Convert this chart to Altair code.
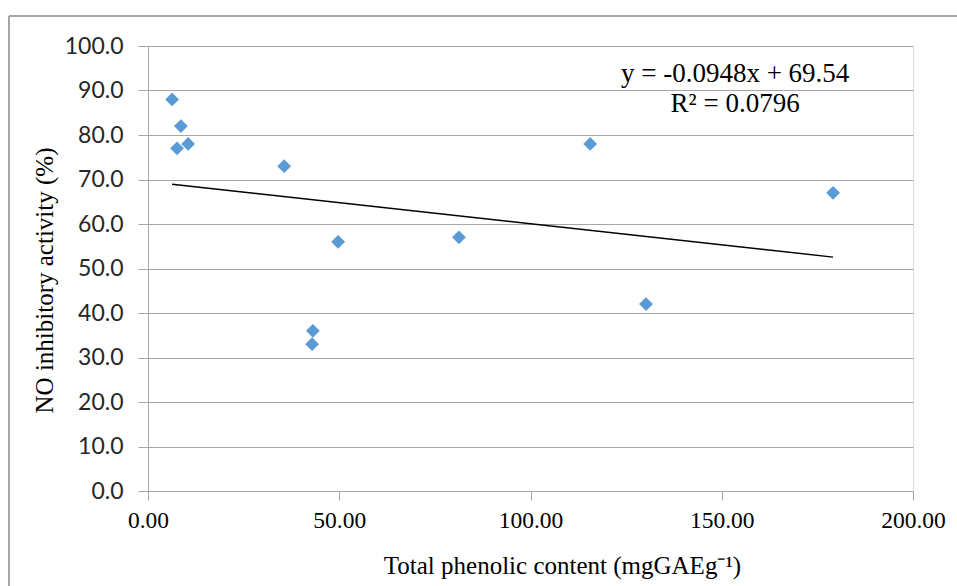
import altair as alt
import pandas as pd

# Data
phenolic = [6.3, 8.6, 7.6, 10.5, 35.6, 49.7, 43.1, 42.9, 81.3, 115.6, 130.2, 179.1]
no_inhib = [88.0, 82.0, 77.0, 78.0, 73.0, 56.0, 36.0, 33.0, 57.0, 78.0, 42.0, 67.0]

eq_lines = ["y = -0.0948x + 69.54", "R² = 0.0796"]
eq_x = [153.5, 153.5]
eq_y = [93.6, 87.0]

df = pd.DataFrame({"x": phenolic, "y": no_inhib})
eq_df = pd.DataFrame({"t": eq_lines, "x": eq_x, "y": eq_y})

W, H = 765, 445
serif = "Liberation Serif"
sans = "Lato"

xscale = alt.Scale(domain=[0, 200], nice=False, zero=True)
yscale = alt.Scale(domain=[0, 100], nice=False)

xenc = alt.X(
    "x:Q",
    scale=xscale,
    axis=alt.Axis(
        values=[0, 50, 100, 150, 200],
        format=".2f",
        title="Total phenolic content (mgGAEg⁻¹)",
        grid=False,
        domainColor="#a6a6a6",
        tickColor="#a6a6a6",
        tickSize=9,
        labelFlush=False,
        labelFont=serif,
        labelFontSize=23.5,
        labelColor="#000000",
        labelPadding=8,
        titleFont=serif,
        titleFontSize=25,
        titleFontWeight="normal",
        titleColor="#000000",
        titleX=414,
        titleY=82,
        titleAlign="center",
        titleBaseline="alphabetic",
    ),
)
yenc = alt.Y(
    "y:Q",
    scale=yscale,
    axis=alt.Axis(
        values=list(range(0, 101, 10)),
        format=".1f",
        title="NO inhibitory activity (%)",
        grid=True,
        gridColor="#a6a6a6",
        gridWidth=1.2,
        domainColor="#a6a6a6",
        tickColor="#a6a6a6",
        tickSize=10,
        labelFont=sans,
        labelFontSize=23,
        labelColor="#262626",
        labelPadding=15,
        titleFont=serif,
        titleFontSize=25,
        titleFontWeight="normal",
        titleColor="#000000",
        titleX=-96,
        titleY=234,
        titleAlign="center",
        titleBaseline="alphabetic",
    ),
)

points = alt.Chart(df).mark_point(
    shape="diamond", filled=True, size=190, color="#5B9BD5", opacity=1
).encode(x=xenc, y=yenc)

trend = (
    alt.Chart(df)
    .transform_regression("x", "y", method="linear")
    .mark_line(color="#000000", strokeWidth=1.4)
    .encode(x=alt.X("x:Q", scale=xscale), y=alt.Y("y:Q", scale=yscale))
)

eq = alt.Chart(eq_df).mark_text(
    font=serif, fontSize=27, color="#000000", align="center", baseline="middle"
).encode(x=alt.X("x:Q", scale=xscale), y=alt.Y("y:Q", scale=yscale), text="t:N")

border = alt.Chart(df).mark_rule(color="#a6a6a6", strokeWidth=1.2).encode(
    x=alt.value(-139), x2=alt.value(W + 60), y=alt.value(-30)
)
border_left = alt.Chart(df).mark_rule(color="#a6a6a6", strokeWidth=1.2).encode(
    x=alt.value(-139), y=alt.value(-30), y2=alt.value(H + 120)
)

chart = (
    alt.layer(border, border_left, trend, points, eq)
    .properties(
        width=W,
        height=H,
        autosize=alt.AutoSizeParams(type="none"),
        padding={"left": 148, "top": 46, "right": 44, "bottom": 95},
    )
    .configure_view(stroke=None)
    .configure(background="#ffffff")
)

chart.save("out.html", embed_options={"renderer": "svg", "actions": False})
